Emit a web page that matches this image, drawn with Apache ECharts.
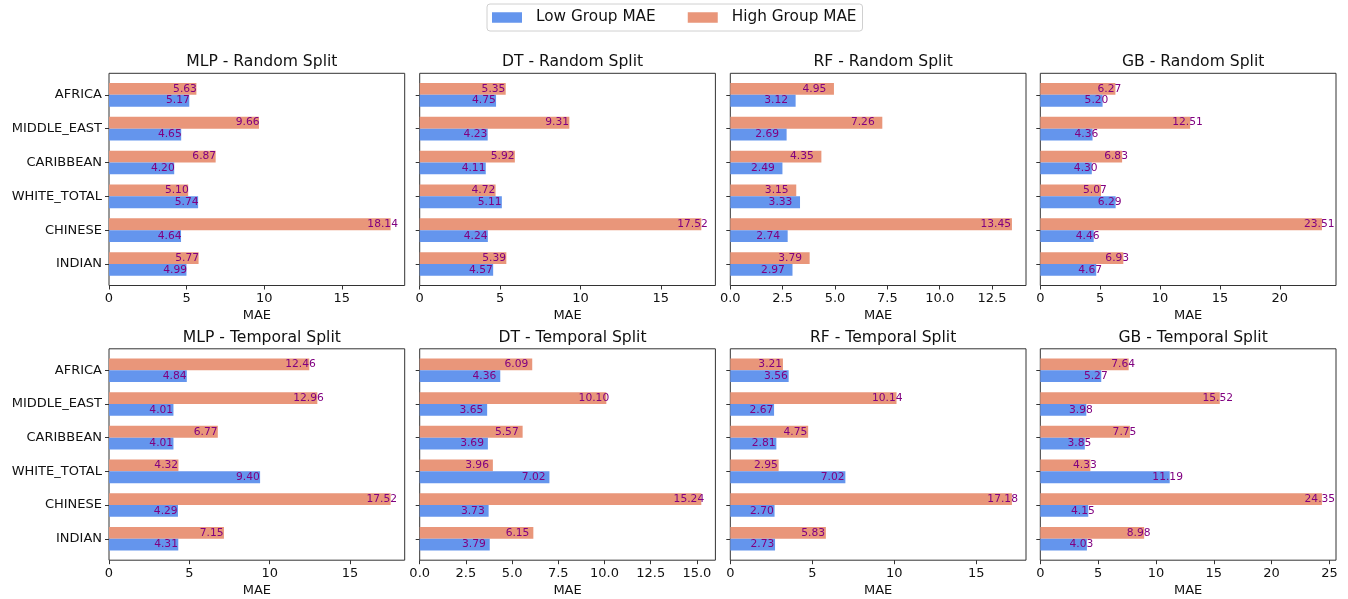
<!DOCTYPE html>
<html>
<head>
<meta charset="utf-8">
<script src="https://cdn.jsdelivr.net/npm/echarts@6/dist/echarts.min.js"></script>
<style>
html,body{margin:0;padding:0;background:#fff;}
#chart{width:1348px;height:599px;}
</style>
</head>
<body>
<div id="chart"></div>
<script>
// ---- data ----
const categories = ['AFRICA', 'MIDDLE_EAST', 'CARIBBEAN', 'WHITE_TOTAL', 'CHINESE', 'INDIAN'];
const panelTitles = ['MLP - Random Split', 'DT - Random Split', 'RF - Random Split', 'GB - Random Split',
                     'MLP - Temporal Split', 'DT - Temporal Split', 'RF - Temporal Split', 'GB - Temporal Split'];
const lowMLPRandom  = [5.17, 4.65, 4.20, 5.74, 4.64, 4.99];
const highMLPRandom = [5.63, 9.66, 6.87, 5.10, 18.14, 5.77];
const lowDTRandom   = [4.75, 4.23, 4.11, 5.11, 4.24, 4.57];
const highDTRandom  = [5.35, 9.31, 5.92, 4.72, 17.52, 5.39];
const lowRFRandom   = [3.12, 2.69, 2.49, 3.33, 2.74, 2.97];
const highRFRandom  = [4.95, 7.26, 4.35, 3.15, 13.45, 3.79];
const lowGBRandom   = [5.20, 4.36, 4.30, 6.29, 4.46, 4.67];
const highGBRandom  = [6.27, 12.51, 6.83, 5.07, 23.51, 6.93];
const lowMLPTemporal  = [4.84, 4.01, 4.01, 9.40, 4.29, 4.31];
const highMLPTemporal = [12.46, 12.96, 6.77, 4.32, 17.52, 7.15];
const lowDTTemporal   = [4.36, 3.65, 3.69, 7.02, 3.73, 3.79];
const highDTTemporal  = [6.09, 10.10, 5.57, 3.96, 15.24, 6.15];
const lowRFTemporal   = [3.56, 2.67, 2.81, 7.02, 2.70, 2.73];
const highRFTemporal  = [3.21, 10.14, 4.75, 2.95, 17.18, 5.83];
const lowGBTemporal   = [5.27, 3.98, 3.85, 11.19, 4.15, 4.03];
const highGBTemporal  = [7.64, 15.52, 7.75, 4.33, 24.35, 8.98];
const tickSteps = [5, 5, 2.5, 5, 5, 2.5, 5, 5];
const lowSets  = [lowMLPRandom, lowDTRandom, lowRFRandom, lowGBRandom, lowMLPTemporal, lowDTTemporal, lowRFTemporal, lowGBTemporal];
const highSets = [highMLPRandom, highDTRandom, highRFRandom, highGBRandom, highMLPTemporal, highDTTemporal, highRFTemporal, highGBTemporal];
const labelShift = 1.5; // value labels start this many data units before the bar end

// ---- layout ----
const FONT = 'DejaVu Sans';
const colLeft = [109, 419.7, 730.3, 1040.3];
const colWidth = 295.7;
const rowTop = [73.3, 348.8];
const rowHeight = [212.2, 211.4];
const LOW_C = '#6495ED', HIGH_C = '#E9967A', LABEL_C = '#800080', AX_C = '#333';

const grids = [], xAxes = [], yAxes = [], series = [], titles = [];
for (let p = 0; p < 8; p++) {
  const r = Math.floor(p / 4), c = p % 4;
  const H = rowHeight[r];
  const inset = 0.135 / 6.27 * H;
  // frame grid
  grids.push({left: colLeft[c], top: rowTop[r], width: colWidth, height: H,
    show: true, borderColor: AX_C, borderWidth: 1, backgroundColor: 'transparent', containLabel: false});
  const fi = grids.length - 1;
  xAxes.push({gridIndex: fi, type: 'value', show: false, min: 0, max: 1});
  yAxes.push({gridIndex: fi, type: 'value', show: false, min: 0, max: 1});
  // data grid
  grids.push({left: colLeft[c], top: rowTop[r] + inset, width: colWidth, height: H - 2 * inset, containLabel: false});
  const gi = grids.length - 1;
  const vmax = Math.max(...lowSets[p], ...highSets[p]) * 1.05;
  const step = tickSteps[p];
  const ticks = [];
  for (let v = 0; v <= vmax + 1e-9; v += step) ticks.push(+v.toFixed(4));
  xAxes.push({
    gridIndex: gi, type: 'value', min: 0, max: vmax, position: 'bottom', offset: inset,
    splitLine: {show: false}, axisLine: {show: false},
    axisTick: {show: true, length: 4, lineStyle: {color: AX_C, width: 1}, customValues: ticks},
    axisLabel: {show: true, margin: 7, fontFamily: FONT, fontSize: 13, color: '#111', customValues: ticks,
      formatter: v => step < 5 ? v.toFixed(1) : String(Math.round(v))},
    name: 'MAE', nameLocation: 'middle', nameGap: 24,
    nameTextStyle: {fontFamily: FONT, fontSize: 13, color: '#111'}
  });
  yAxes.push({
    gridIndex: gi, type: 'category', data: categories, inverse: true,
    axisLine: {show: false}, splitLine: {show: false},
    axisTick: {show: true, alignWithLabel: true, length: 4, lineStyle: {color: AX_C, width: 1}},
    axisLabel: {show: c === 0, margin: 7, fontFamily: FONT, fontSize: 13, color: '#111'}
  });
  const xi = xAxes.length - 1, yi = yAxes.length - 1;
  const pxShift = labelShift * colWidth / vmax;
  const lab = {show: true, position: 'right', distance: 0, align: 'left', verticalAlign: 'middle',
    offset: [-pxShift, 0],
    color: LABEL_C, fontFamily: FONT, fontSize: 10.7, formatter: q => q.value.toFixed(2)};
  series.push({name: 'High Group MAE', type: 'bar', xAxisIndex: xi, yAxisIndex: yi, data: highSets[p],
    barWidth: '35%', barGap: '0%', itemStyle: {color: HIGH_C}, label: lab, silent: true, animation: false});
  series.push({name: 'Low Group MAE', type: 'bar', xAxisIndex: xi, yAxisIndex: yi, data: lowSets[p],
    barWidth: '35%', barGap: '0%', itemStyle: {color: LOW_C}, label: lab, silent: true, animation: false});
  titles.push({text: panelTitles[p], left: colLeft[c] + colWidth / 2, textAlign: 'center',
    top: r === 0 ? 48.5 : 324.5,
    textStyle: {fontFamily: FONT, fontSize: 15.6, fontWeight: 'normal', color: '#111'}});
}

const chart = echarts.init(document.getElementById('chart'), null, {renderer: 'canvas'});
chart.setOption({
  animation: false,
  backgroundColor: '#fff',
  title: titles,
  legend: {
    data: ['Low Group MAE', 'High Group MAE'],
    left: 487, top: 4, orient: 'horizontal',
    itemWidth: 30, itemHeight: 10.5, itemGap: 32,
    padding: [6, 6, 6, 5],
    borderColor: '#d0d0d0', borderWidth: 1, borderRadius: 3,
    icon: 'rect',
    textStyle: {fontFamily: FONT, fontSize: 15.3, color: '#111', padding: [0, 0, 0, 9]}
  },
  grid: grids,
  xAxis: xAxes,
  yAxis: yAxes,
  series: series
});
</script>
</body>
</html>
